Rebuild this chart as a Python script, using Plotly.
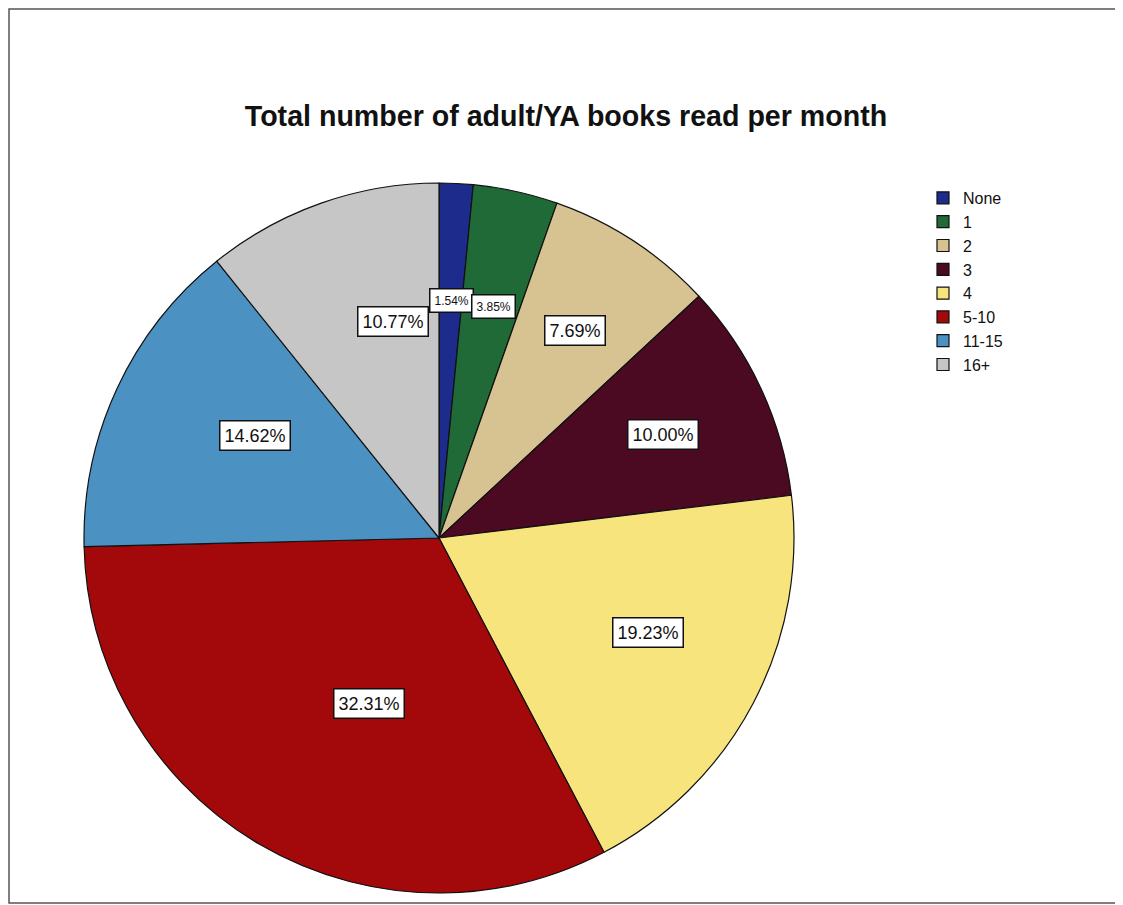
import math

import plotly.graph_objects as go

# data
categories = ["None", "1", "2", "3", "4", "5-10", "11-15", "16+"]
percents = [1.54, 3.85, 7.69, 10.00, 19.23, 32.31, 14.62, 10.77]
colors = ["#1c2b8c", "#1f6a36", "#d6c391", "#4c0a22", "#f8e47c",
          "#a3090a", "#4b92c3", "#c6c6c6"]

# the page body adds an 8px margin, so work in figure pixels = screen - OFF
OFF = 8
W, H = 1123, 905
CX, CY, R = 439 - OFF, 538 - OFF, 355  # pie centre / radius

dom_x = [(CX - R) / W, (CX + R) / W]
dom_y = [1 - (CY + R) / H, 1 - (CY - R) / H]

fig = go.Figure()
fig.add_trace(
    go.Pie(
        labels=categories,
        values=percents,
        sort=False,
        direction="clockwise",
        rotation=0,
        marker=dict(colors=colors, line=dict(color="#111111", width=1.2)),
        textinfo="none",
        hoverinfo="label+percent",
        domain=dict(x=dom_x, y=dom_y),
    )
)

# boxed percentage labels at (roughly) the sector centroids
total = sum(percents)
cum = 0.0
for cat, p in zip(categories, percents):
    half = math.pi * p / total
    mid = 2 * math.pi * (cum + p / 2) / total
    cum += p
    d = (2 / 3) * math.sin(half) / half * 1.06
    px = CX + d * R * math.sin(mid)
    py = CY - d * R * math.cos(mid)
    small = p < 5
    fig.add_annotation(
        x=px / W,
        y=1 - py / H,
        xref="paper",
        yref="paper",
        text=f"{p:.2f}%",
        showarrow=False,
        font=dict(family="Liberation Sans, Arial", size=12 if small else 18, color="#111111"),
        bgcolor="white",
        bordercolor="#111111",
        borderwidth=1.5,
        borderpad=4,
    )

# outer frame
fig.add_shape(
    type="rect", xref="paper", yref="paper",
    x0=1 / W, x1=1.02, y0=1 - (903 - OFF) / H, y1=1 - (9 - OFF) / H,
    line=dict(color="#555555", width=1.5),
)

fig.update_layout(
    width=W,
    height=H,
    margin=dict(l=0, r=0, t=0, b=0),
    paper_bgcolor="white",
    title=dict(
        text="<b>Total number of adult/YA books read per month</b>",
        x=(566 - OFF) / W,
        xanchor="center",
        y=1 - (116 - OFF) / H,
        yanchor="middle",
        font=dict(family="Liberation Sans, Arial", size=28.6, color="#111111"),
    ),
    legend=dict(
        x=(923 - OFF) / W,
        y=1 - (181 - OFF) / H,
        xanchor="left",
        yanchor="top",
        font=dict(family="Liberation Sans, Arial", size=16, color="#111111"),
        itemwidth=30,
    ),
)

fig.write_html("out.html")
